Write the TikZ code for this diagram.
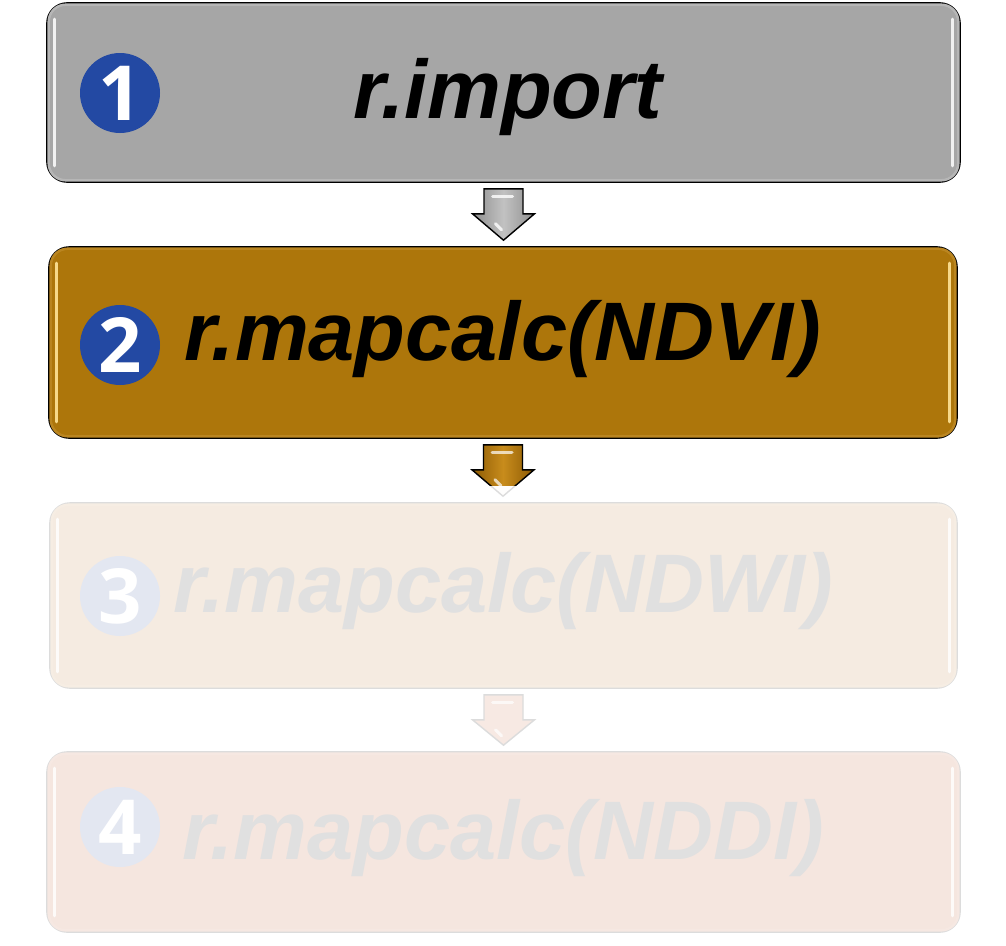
\documentclass[tikz,border=0pt]{standalone}
\usepackage{fontspec}
\newfontfamily\labfont{Liberation Sans}
\newfontfamily\digfont{Open Sans}
\usetikzlibrary{calc}
\definecolor{grayfill}{HTML}{A6A6A6}
\definecolor{grayrim}{HTML}{B6B6B6}
\definecolor{brownfill}{HTML}{AD760B}
\definecolor{brownrim}{HTML}{BA8520}
\definecolor{browngleam}{HTML}{F7D98A}
\definecolor{pale3}{HTML}{F5EBE1}
\definecolor{pale4}{HTML}{F5E6DF}
\definecolor{paleline}{HTML}{DCDCDC}
\definecolor{fadetext}{HTML}{E0E0E0}
\definecolor{numblue}{HTML}{2349A3}
\definecolor{numpale}{HTML}{E3E7F1}
\definecolor{arrgrayedge}{HTML}{8E8E8E}
\definecolor{arrgraymid}{HTML}{C2C2C2}
\definecolor{arrbrownedge}{HTML}{8C5A04}
\definecolor{arrbrownmid}{HTML}{C88C1C}
\definecolor{arrpale}{HTML}{F7E9E3}
\tikzset{
  stepbox/.style={rectangle, rounded corners=20pt, inner sep=0pt, line width=1.6pt},
  steptext/.style={inner sep=0pt, anchor=base, font=\labfont\bfseries\itshape\fontsize{83}{83}\selectfont},
  numdisc/.style={circle, minimum size=80pt, inner sep=0pt, font=\digfont\bfseries\fontsize{76}{76}\selectfont, text=white},
  gleam/.style={line width=3pt, line cap=round},
  rim/.style={line width=2.5pt, rounded corners=17pt},
}
\newcommand\flowarrow[3]{%
  \path let \p1=(#1.south), \p2=(#2.north) in
   [#3, line width=1.4pt, line join=miter]
   (\x1-19.5pt,\y1-6pt) -- (\x1+19.5pt,\y1-6pt) -- (\x1+19.5pt,\y1-31pt) -- (\x1+31pt,\y1-31pt)
   -- (\x1,\y2+6pt) -- (\x1-31pt,\y1-31pt) -- (\x1-19.5pt,\y1-31pt) -- cycle;
}
\newcommand\arrowgleam[2]{%
  \path let \p1=(#1.south) in
   [white, opacity=#2, line width=3pt, line cap=round]
   (\x1-11pt,\y1-14pt) edge (\x1+9pt,\y1-14pt)
   (\x1-8pt,\y1-41pt) edge (\x1-2pt,\y1-47pt);
}
\newcommand\boxgleam[3]{%
  \draw[rim, #2] ([shift={(2.5pt,-2.5pt)}]#1.north west) rectangle ([shift={(-2.5pt,2.5pt)}]#1.south east);
  \draw[gleam, #3] ([shift={(8pt,-17pt)}]#1.north west) -- ([shift={(8pt,17pt)}]#1.south west);
  \draw[gleam, #3] ([shift={(-8pt,-17pt)}]#1.north east) -- ([shift={(-8pt,17pt)}]#1.south east);
}
\begin{document}
\begin{tikzpicture}[x=1pt,y=-1pt]
\useasboundingbox (0,0) rectangle (1006,945);
\fill[white] (0,0) rectangle (1006,945);

% boxes
\node[stepbox, fill=grayfill, draw=black, minimum width=913pt, minimum height=179pt] (b1) at (503.5,92.5) {};
\boxgleam{b1}{grayrim}{white, opacity=0.85}
\node[stepbox, fill=brownfill, draw=black, minimum width=908pt, minimum height=191pt] (b2) at (503,342.5) {};
\boxgleam{b2}{brownrim}{browngleam}
\node[stepbox, fill=pale3, draw=paleline, minimum width=907pt, minimum height=185pt] (b3) at (503.5,595.5) {};
\boxgleam{b3}{pale3!92!white}{white, opacity=0.8}
\node[stepbox, fill=pale4, draw=paleline, minimum width=913pt, minimum height=180pt] (b4) at (503.5,842) {};
\boxgleam{b4}{pale4!92!white}{white, opacity=0.8}

% number discs
\node[numdisc, fill=numblue] (c1) at (120,93) {1};
\node[numdisc, fill=numblue] (c2) at (120,345) {2};
\node[numdisc, fill=numpale] (c3) at (120,596) {3};
\node[numdisc, fill=numpale] (c4) at (120,827) {4};

% labels
\node[steptext, text=black] (t1) at (508,118) {r.import};
\node[steptext, text=black] (t2) at (502.5,360) {r.mapcalc(NDVI)};
\node[steptext, text=fadetext] (t3) at (503.5,612) {r.mapcalc(NDWI)};
\node[steptext, text=fadetext] (t4) at (503.5,859) {r.mapcalc(NDDI)};

% arrows
\flowarrow{b1}{b2}{draw=black, left color=arrgrayedge, right color=arrgrayedge, middle color=arrgraymid}
\arrowgleam{b1}{0.8}
\flowarrow{b2}{b3}{draw=paleline, fill=white!90!arrpale}
\begin{scope}
  \clip (0,0) rectangle (1006,485);
  \flowarrow{b2}{b3}{draw=black, left color=arrbrownedge, right color=arrbrownedge, middle color=arrbrownmid}
  \arrowgleam{b2}{0.7}
\end{scope}
\flowarrow{b3}{b4}{draw=paleline, fill=arrpale}
\arrowgleam{b3}{0.7}
\end{tikzpicture}
\end{document}
